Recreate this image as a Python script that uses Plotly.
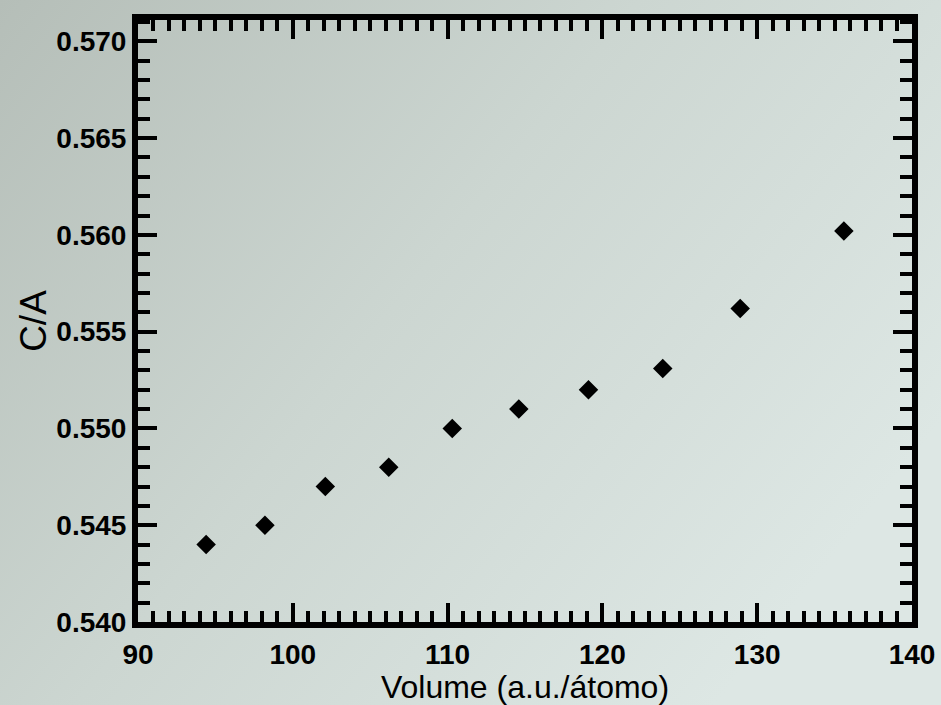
import base64
import plotly.graph_objects as go

# c/a ratio versus volume per atom
volume = [94.4, 98.2, 102.1, 106.2, 110.3, 114.6, 119.1, 123.9, 128.9, 135.6]
c_over_a = [0.5440, 0.5450, 0.5470, 0.5480, 0.5500, 0.5510, 0.5520, 0.5531, 0.5562, 0.5602]

x_ticks = [90, 100, 110, 120, 130, 140]
y_ticks = [0.540, 0.545, 0.550, 0.555, 0.560, 0.565, 0.570]

W, H = 941, 705
L, R, T, B = 138, 29, 20, 83
pw, ph = W - L - R, H - T - B

# soft paper tone behind the whole figure
svg = f"""<svg xmlns='http://www.w3.org/2000/svg' width='{W}' height='{H}'>
<defs><linearGradient id='g' x1='0' y1='0' x2='1' y2='0.6'>
<stop offset='0' stop-color='#b5beb8'/>
<stop offset='0.5' stop-color='#ccd6d1'/>
<stop offset='1' stop-color='#dde7e4'/>
</linearGradient></defs>
<rect width='{W}' height='{H}' fill='url(#g)'/></svg>"""
bg_src = "data:image/svg+xml;base64," + base64.b64encode(svg.encode()).decode()

fig = go.Figure(
    go.Scatter(
        x=volume,
        y=c_over_a,
        mode="markers",
        marker=dict(symbol="diamond", size=15, color="black", line=dict(width=0)),
        showlegend=False,
    )
)

font = "Liberation Sans, Arial, Helvetica, sans-serif"
axis_common = dict(
    showline=True,
    linecolor="black",
    linewidth=6,
    mirror="allticks",
    ticks="inside",
    ticklen=19,
    tickwidth=4,
    tickcolor="black",
    showgrid=False,
    zeroline=False,
    automargin=False,
    tickfont=dict(family=font, size=28, color="black", weight="bold"),
)

fig.update_xaxes(
    **axis_common,
    range=[90, 140],
    tickvals=x_ticks,
    ticktext=[str(v) for v in x_ticks],
    minor=dict(dtick=1, ticks="inside", ticklen=11, tickwidth=4, tickcolor="black", showgrid=False),
    title=dict(text="Volume (a.u./átomo)", font=dict(family=font, size=32, color="black"), standoff=10),
    ticklabelstandoff=2,
)
fig.update_yaxes(
    **axis_common,
    range=[0.540, 0.5711],
    tickvals=y_ticks,
    ticktext=[f"{v:.3f}" for v in y_ticks],
    minor=dict(dtick=0.001, ticks="inside", ticklen=12, tickwidth=4, tickcolor="black", showgrid=False),
    title=dict(text="C/A", font=dict(family=font, size=37, color="black"), standoff=0),
    ticklabelstandoff=0,
)

fig.update_layout(
    width=W,
    height=H,
    margin=dict(l=L, r=R, t=T, b=B),
    paper_bgcolor="#c8d1cd",
    plot_bgcolor="rgba(0,0,0,0)",
    images=[
        dict(
            source=bg_src,
            xref="paper",
            yref="paper",
            x=-L / pw,
            y=1 + T / ph,
            sizex=W / pw,
            sizey=H / ph,
            sizing="stretch",
            xanchor="left",
            yanchor="top",
            layer="below",
        )
    ],
)

fig.write_html("out.html")
